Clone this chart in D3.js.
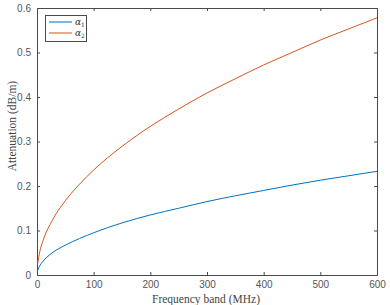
<!DOCTYPE html>
<html><head><meta charset="utf-8">
<script src="https://cdn.jsdelivr.net/npm/d3@7"></script>
<style>body{margin:0;background:#fff}svg{display:block}</style>
</head><body>
<script>
const freqs = [1, 5, 10, 25, 50, 75, 100, 150, 200, 250, 300, 350, 400, 450, 500, 550, 600];
const alpha1 = [0.0095, 0.021, 0.030, 0.048, 0.067, 0.082, 0.095, 0.117, 0.135, 0.150, 0.165, 0.178, 0.190, 0.202, 0.213, 0.223, 0.233];
const alpha2 = [0.024, 0.053, 0.075, 0.118, 0.167, 0.204, 0.236, 0.289, 0.334, 0.373, 0.409, 0.441, 0.472, 0.500, 0.528, 0.553, 0.578];
const xTicks = [0, 100, 200, 300, 400, 500, 600];
const yTicks = [0, 0.1, 0.2, 0.3, 0.4, 0.5, 0.6];
const seriesNames = ["1", "2"];
const seriesColors = ["#0072BD", "#D95319"];

const W = 390, H = 305;
const L = 37, R = 377, T = 8, B = 275;
const svg = d3.select("body").append("svg").attr("width", W).attr("height", H);
const x = d3.scaleLinear().domain([0, 600]).range([L, R]);
const y = d3.scaleLinear().domain([0, 0.6]).range([B, T]);
const axCol = "#4a4a4a", lblCol = "#555";

const gx = svg.append("g").attr("transform", `translate(0,${B})`)
  .call(d3.axisBottom(x).tickValues(xTicks).tickSize(-3).tickPadding(6).tickFormat(d3.format("d")));
const gxt = svg.append("g").attr("transform", `translate(0,${T})`)
  .call(d3.axisTop(x).tickValues(xTicks).tickSize(-3).tickFormat(""));
const gy = svg.append("g").attr("transform", `translate(${L},0)`)
  .call(d3.axisLeft(y).tickValues(yTicks).tickSize(-3).tickPadding(6).tickFormat(d => d === 0 ? "0" : d3.format(".1f")(d)));
const gyr = svg.append("g").attr("transform", `translate(${R},0)`)
  .call(d3.axisRight(y).tickValues(yTicks).tickSize(-3).tickFormat(""));
[gx, gxt, gy, gyr].forEach(g => {
  g.selectAll("path.domain").attr("stroke", axCol).attr("stroke-width", 1);
  g.selectAll(".tick line").attr("stroke", axCol);
  g.selectAll("text").attr("fill", lblCol).attr("font-family", "Liberation Sans, Arial, sans-serif").attr("font-size", 10);
});

const line = d3.line().x((d, i) => x(freqs[i])).y(d => y(d)).curve(d3.curveMonotoneX);
const clip = svg.append("clipPath").attr("id", "c").append("rect").attr("x", L).attr("y", T).attr("width", R - L).attr("height", B - T);
[alpha1, alpha2].forEach((s, k) => {
  svg.append("path").datum(s).attr("d", line).attr("fill", "none")
    .attr("stroke", seriesColors[k]).attr("stroke-width", 1).attr("clip-path", "url(#c)");
});

// legend
const lg = svg.append("g");
lg.append("rect").attr("x", 45.5).attr("y", 15.5).attr("width", 41).attr("height", 26)
  .attr("fill", "#fff").attr("stroke", axCol).attr("stroke-width", 1);
seriesNames.forEach((n, k) => {
  const yy = 22 + k * 11;
  lg.append("line").attr("x1", 49).attr("x2", 72).attr("y1", yy).attr("y2", yy)
    .attr("stroke", seriesColors[k]).attr("stroke-width", 1);
  const t = lg.append("text").attr("x", 75).attr("y", yy + 3).attr("font-family", "DejaVu Serif, serif")
    .attr("font-style", "italic").attr("font-size", 9).attr("fill", "#333");
  t.append("tspan").text("α");
  t.append("tspan").attr("font-size", 6).attr("font-style", "normal").attr("dy", 2).text(n);
});

// axis labels
svg.append("text").attr("x", 206).attr("y", 303).attr("text-anchor", "middle")
  .attr("font-family", "Liberation Serif, 'DejaVu Serif', serif").attr("font-size", 11.5).attr("fill", "#444")
  .text("Frequency band (MHz)");
svg.append("text").attr("transform", "translate(16,126) rotate(-90)").attr("text-anchor", "middle")
  .attr("font-family", "Liberation Serif, 'DejaVu Serif', serif").attr("font-size", 11.5).attr("fill", "#444")
  .text("Attenuation (dB/m)");
</script>
</body></html>
